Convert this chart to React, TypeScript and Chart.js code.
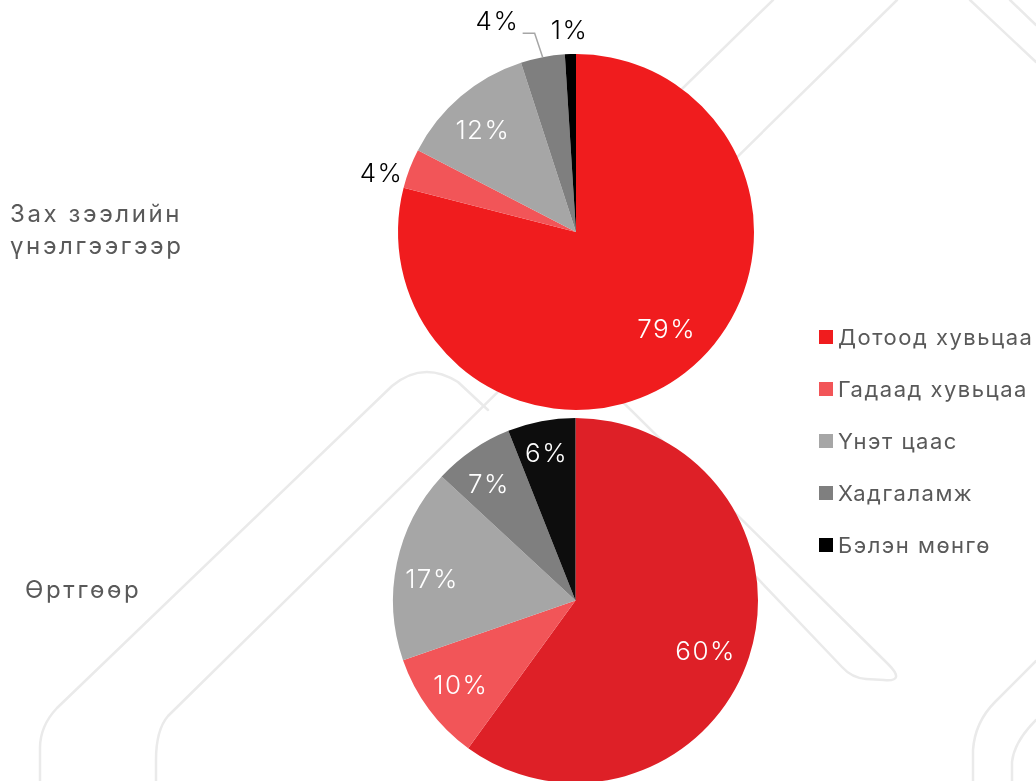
import { useEffect, useRef } from "react";
import { Chart, registerables } from "chart.js";

Chart.register(...registerables);

// ---- data ----
const categories = ["Дотоод хувьцаа", "Гадаад хувьцаа", "Үнэт цаас", "Хадгаламж", "Бэлэн мөнгө"];
const marketValues = [79, 3.6, 12.4, 4, 1];
const costValues = [60, 9.7, 17.2, 7.1, 6];
const marketTitle = ["Зах зээлийн", "үнэлгээгээр"];
const costTitle = ["Өртгөөр"];

// ---- styles ----
const marketColors = ["#F01C1E", "#F25558", "#A6A6A6", "#7F7F7F", "#000000"];
const costColors = ["#DE2027", "#F25558", "#A6A6A6", "#7F7F7F", "#0D0D0D"];
const FONT = "Inter, 'Noto Sans', sans-serif";

type Place = { r: number; dx: number; dy: number; color: string; leader?: number[][] };

const marketPlace: Place[] = [
  { r: 0.76, dx: 7, dy: -9, color: "#fff" },
  { r: 1.12, dx: -9, dy: 13, color: "#000" },
  { r: 0.78, dx: -4, dy: 5, color: "#fff" },
  { r: 1.0, dx: -46, dy: -35, color: "#000", leader: [[-8, -24], [-20, -24]] },
  { r: 1.12, dx: -1, dy: -2, color: "#000" },
];
const costPlace: Place[] = [
  { r: 0.78, dx: -6, dy: 8, color: "#fff" },
  { r: 0.78, dx: -1, dy: 1, color: "#fff" },
  { r: 0.78, dx: -5, dy: 9, color: "#fff" },
  { r: 0.78, dx: -7, dy: 2, color: "#fff" },
  { r: 0.78, dx: -3, dy: -6, color: "#fff" },
];

const sliceLabels = {
  id: "sliceLabels",
  afterDatasetsDraw(chart: any, _args: any, opts: any) {
    const ctx = chart.ctx;
    const meta = chart.getDatasetMeta(0);
    const values = chart.data.datasets[0].data as number[];
    const places: Place[] = opts.places || [];
    ctx.save();
    ctx.font = `300 26px ${FONT}`;
    try {
      (ctx as any).letterSpacing = "1.5px";
    } catch (e) {}
    ctx.textAlign = "center";
    ctx.textBaseline = "middle";
    meta.data.forEach((arc: any, i: number) => {
      const p = places[i];
      if (!p) return;
      const { x, y, startAngle, endAngle, outerRadius } = arc.getProps(
        ["x", "y", "startAngle", "endAngle", "outerRadius"],
        true
      );
      const mid = (startAngle + endAngle) / 2;
      const bx = x + Math.cos(mid) * outerRadius * p.r;
      const by = y + Math.sin(mid) * outerRadius * p.r;
      if (p.leader) {
        ctx.strokeStyle = "#A6A6A6";
        ctx.lineWidth = 1.5;
        ctx.beginPath();
        ctx.moveTo(bx, by);
        p.leader.forEach((pt) => ctx.lineTo(bx + pt[0], by + pt[1]));
        ctx.stroke();
      }
      ctx.fillStyle = p.color;
      ctx.fillText(Math.round(values[i]) + "%", bx + p.dx + 0.75, by + p.dy);
    });
    ctx.restore();
  },
};

function PieCanvas(props: {
  values: number[];
  colors: string[];
  places: Place[];
  height: number;
  padding: { left: number; right: number; top: number; bottom: number };
}) {
  const ref = useRef<HTMLCanvasElement | null>(null);
  useEffect(() => {
    if (!ref.current) return;
    const chart = new Chart(ref.current, {
      type: "pie",
      data: {
        labels: categories,
        datasets: [
          {
            data: props.values,
            backgroundColor: props.colors,
            borderWidth: 0,
          },
        ],
      },
      options: {
        responsive: false,
        animation: false,
        devicePixelRatio: 1,
        layout: { padding: props.padding },
        plugins: {
          legend: { display: false },
          tooltip: { enabled: false },
          sliceLabels: { places: props.places },
        } as any,
      },
      plugins: [sliceLabels],
    });
    return () => chart.destroy();
  }, []);
  return (
    <canvas
      ref={ref}
      width={1036}
      height={props.height}
      style={{ position: "absolute", left: 0, top: 0, width: 1036, height: props.height }}
    />
  );
}

const wm = "#EAEAEA";

export default function App() {
  const textStyle: any = {
    position: "absolute",
    fontFamily: FONT,
    color: "#595959",
    fontSize: 24,
    letterSpacing: "2.6px",
    lineHeight: "32px",
    whiteSpace: "nowrap",
  };
  return (
    <div
      style={{
        position: "fixed",
        left: 0,
        top: 0,
        width: 1036,
        height: 781,
        overflow: "hidden",
        background: "#fff",
      }}
    >
      <svg width={1036} height={781} style={{ position: "absolute", left: 0, top: 0 }}>
        <g fill="none" stroke={wm} strokeWidth={2.5} strokeLinecap="round" strokeLinejoin="round">
          <path d="M40,781 L40,748 Q40,726 57,708 L392,386 Q423,360 458,382 L488,410" />
          <path d="M897,0 L168,716 Q156,730 156,760 L156,781" />
          <path d="M773,0 L640,130" />
          <path d="M560,340 L888,664 Q906,682 884,680 L866,679 Q852,678 842,667 L740,560" />
          <path d="M970,0 L1036,62" />
          <path d="M1010,0 L1036,25" />
          <path d="M973,781 L973,750 Q975,722 995,702 L1036,661" />
          <path d="M1012,781 L1012,762 Q1014,742 1036,720" />
        </g>
      </svg>
      <PieCanvas
        values={marketValues}
        colors={marketColors}
        places={marketPlace}
        height={781}
        padding={{ left: 398, right: 282, top: 54, bottom: 371 }}
      />
      <PieCanvas
        values={costValues}
        colors={costColors}
        places={costPlace}
        height={800}
        padding={{ left: 393, right: 278, top: 418, bottom: 17 }}
      />
      <div style={{ ...textStyle, left: 10, top: 198 }}>
        {marketTitle.map((t, i) => (
          <div key={i}>{t}</div>
        ))}
      </div>
      <div style={{ ...textStyle, left: 25, top: 574 }}>
        {costTitle.map((t, i) => (
          <div key={i}>{t}</div>
        ))}
      </div>
      <div style={{ position: "absolute", left: 819, top: 337 - 26 }}>
        {categories.map((c, i) => (
          <div
            key={i}
            style={{ display: "flex", alignItems: "center", height: 52, whiteSpace: "nowrap" }}
          >
            <div style={{ width: 14, height: 14, background: marketColors[i], marginRight: 5 }} />
            <span
              style={{ fontFamily: FONT, fontSize: 22, letterSpacing: "1.5px", color: "#595959" }}
            >
              {c}
            </span>
          </div>
        ))}
      </div>
    </div>
  );
}
